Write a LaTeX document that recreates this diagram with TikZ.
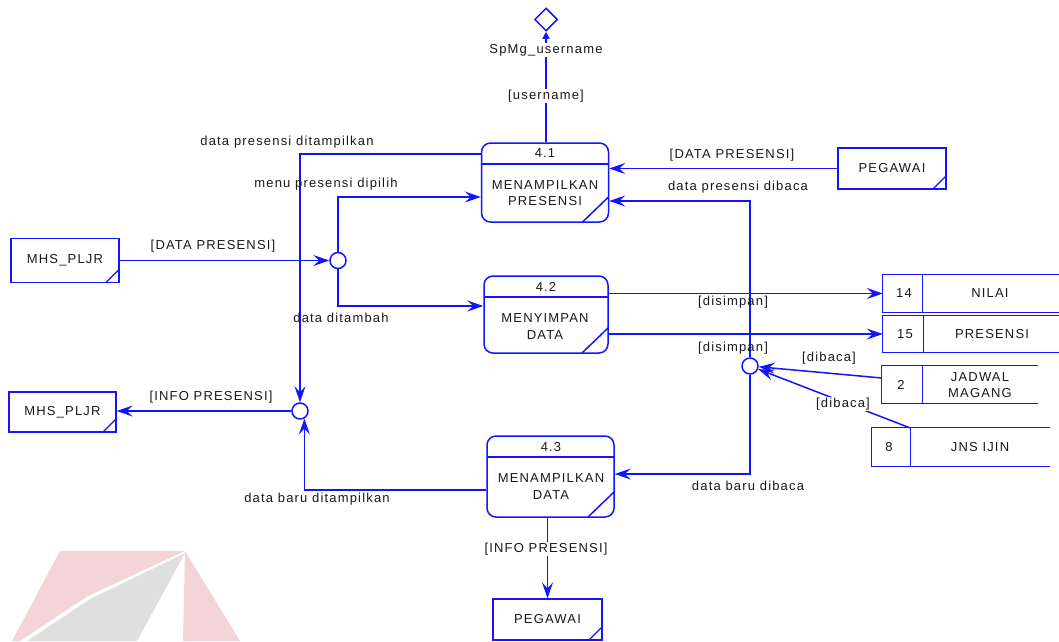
\documentclass[tikz,border=0pt]{standalone}
\usepackage{fontspec}
\setmainfont{Liberation Sans}[LetterSpace=9]
\usetikzlibrary{arrows.meta,shapes.geometric,calc}
\definecolor{dfdblue}{RGB}{20,20,255}
\definecolor{ink}{RGB}{25,25,25}
\definecolor{wmpink}{RGB}{243,212,217}
\definecolor{wmgrey}{RGB}{223,223,223}
\begin{document}
\begin{tikzpicture}[x=1pt,y=-1pt,
  blueline/.style={draw=dfdblue, line width=1.5pt},
  flow/.style={blueline, -{Stealth[length=16pt,width=11pt,inset=6pt]}},
  txt/.style={font=\fontsize{13}{16.5}\selectfont, text=ink, inner sep=1pt, align=center},
  lbl/.style={txt, fill=white},
  proc/.style={blueline, rounded corners=9pt, inner sep=0pt,
    path picture={
      \draw[blueline] ($(path picture bounding box.north west)+(0pt,-21pt)$) --
                      ($(path picture bounding box.north east)+(0pt,-21pt)$);
      \draw[blueline] ($(path picture bounding box.south east)+(-26pt,0pt)$) --
                      ($(path picture bounding box.south east)+(0pt,25pt)$);
    }},
  extent/.style={blueline, line width=1.3pt, inner sep=0pt,
    path picture={
      \draw[blueline, line width=1.3pt] ($(path picture bounding box.south east)+(-13pt,0pt)$) --
                      ($(path picture bounding box.south east)+(0pt,13pt)$);
    }},
  junction/.style={circle, blueline, fill=white, minimum size=16pt, inner sep=0pt},
  storebox/.style={inner sep=0pt},
  storeline/.style={draw=dfdblue, line width=1.3pt},
]
\useasboundingbox (0,0) rectangle (1059,641);

% faint logo in the lower left corner
\fill[wmpink] (60,551) -- (185,551) -- (88,596) -- (20,641) -- (12,641) -- cycle;
\fill[wmgrey] (185,553) -- (90,599) -- (27,641) -- (137,641) -- cycle;
\fill[wmpink] (185,551) -- (240,641) -- (183,641) -- cycle;

% processes
\node[proc, minimum width=127pt, minimum height=79pt] (p1) at (545,182.5) {};
\node[proc, minimum width=124pt, minimum height=77pt] (p2) at (546,314.5) {};
\node[proc, minimum width=127pt, minimum height=81pt] (p3) at (550.5,476.5) {};
\node[txt] (p1n) at (545,153) {4.1};
\node[txt] (p1t) at (545,193) {MENAMPILKAN\\PRESENSI};
\node[txt] (p2n) at (546,287) {4.2};
\node[txt] (p2t) at (545,326.5) {MENYIMPAN\\DATA};
\node[txt] (p3n) at (551,447) {4.3};
\node[txt] (p3t) at (551,486.5) {MENAMPILKAN\\DATA};

% external entities
\node[extent, minimum width=108pt, minimum height=41pt] (e1) at (892,168.5) {};
\node[txt] (e1t) at (892,168.5) {PEGAWAI};
\node[extent, minimum width=108pt, minimum height=44pt] (m1) at (65,260.5) {};
\node[txt] (m1t) at (65,260.5) {MHS\_PLJR};
\node[extent, minimum width=107pt, minimum height=40pt] (m2) at (62.5,412) {};
\node[txt] (m2t) at (62.5,412) {MHS\_PLJR};
\node[extent, minimum width=109pt, minimum height=41pt] (e2) at (547.5,619.5) {};
\node[txt] (e2t) at (547.5,619.5) {PEGAWAI};

% data stores
\node[storebox, minimum width=176pt, minimum height=37pt] (s14) at (971,293.5) {};
\node[storebox, minimum width=176pt, minimum height=36pt] (s15) at (971,334) {};
\node[storebox, minimum width=156pt, minimum height=37pt] (s2) at (960,384.5) {};
\node[storebox, minimum width=178pt, minimum height=38pt] (s8) at (961,447) {};
\foreach \s/\d in {s14/40, s15/41, s2/41, s8/39}{
  \draw[storeline] (\s.north east) -- (\s.north west) -- (\s.south west) -- (\s.south east);
  \draw[storeline] ($(\s.north west)+(\d pt,0pt)$) -- ($(\s.south west)+(\d pt,0pt)$);
}
\node[txt] (s14i) at (904,293.5) {14};
\node[txt] (s14t) at (990,293.5) {NILAI};
\node[txt] (s15i) at (905,334.5) {15};
\node[txt] (s15t) at (992,334.5) {PRESENSI};
\node[txt] (s2i) at (901,385) {2};
\node[txt] (s2t) at (980,385) {JADWAL\\MAGANG};
\node[txt] (s8i) at (889,447) {8};
\node[txt] (s8t) at (980,447) {JNS IJIN};

% junctions and the session variable
\node[junction] (c1) at (338,260.5) {};
\node[junction] (c2) at (300,411) {};
\node[junction] (c3) at (750,366) {};
\node[diamond, blueline, minimum width=23pt, minimum height=23pt, inner sep=0pt] (dia) at (546,19.5) {};

% data flows
\draw[blueline, -{Triangle[length=7pt,width=7pt]}] (p1.north -| dia.south) -- (dia.south);
\draw[flow] (e1.west) -- (p1.east |- e1.west);
\draw[flow] (c3.north) |- ($(p1.east)+(0pt,-18.5pt)$);
\draw[flow] ($(p1.west)+(0pt,28.5pt)$) -| (c2.north);
\draw[flow] (c1.north) |- ($(p1.west)+(0pt,-14.5pt)$);
\draw[flow] (m1.east) -- (c1.west);
\draw[flow] (c1.south) |- ($(p2.west)+(0pt,8.5pt)$);
\draw[flow] (p2.east |- s14.west) -- (s14.west);
\draw[flow] (p2.east |- s15.west) -- (s15.west);
\draw[flow] ($(s2.west)+(0pt,6.5pt)$) -- (c3);
\draw[flow] ($(s8.north west)+(38pt,0pt)$) -- (c3);
\draw[flow] (c3.south) |- ($(p3.east)+(0pt,2.5pt)$);
\draw[flow] ($(p3.west)+(0pt,-13.5pt)$) -| (c2.-60);
\draw[flow] (c2.west) -- (m2.east |- c2.west);
\draw[flow] (p3.south -| e2.north) -- (e2.north);

% flow labels
\node[lbl] (lsp) at (546,50) {SpMg\_username};
\node[lbl] (lun) at (546,96) {[username]};
\node[txt] (l1) at (732,155) {[DATA PRESENSI]};
\node[txt] (l2) at (738,187) {data presensi dibaca};
\node[txt] (l3) at (287,142) {data presensi ditampilkan};
\node[txt] (l4) at (326,184) {menu presensi dipilih};
\node[txt] (l5) at (213,246) {[DATA PRESENSI]};
\node[txt] (l6) at (341,318) {data ditambah};
\node[txt] (l7) at (733,302) {[disimpan]};
\node[txt] (l8) at (733,348) {[disimpan]};
\node[txt] (l9) at (829,358) {[dibaca]};
\node[lbl] (l10) at (843,404) {[dibaca]};
\node[txt] (l11) at (748,486) {data baru dibaca};
\node[txt] (l12) at (317,499) {data baru ditampilkan};
\node[txt] (l13) at (211,397) {[INFO PRESENSI]};
\node[lbl] (l14) at (546,549) {[INFO PRESENSI]};
\end{tikzpicture}
\end{document}
